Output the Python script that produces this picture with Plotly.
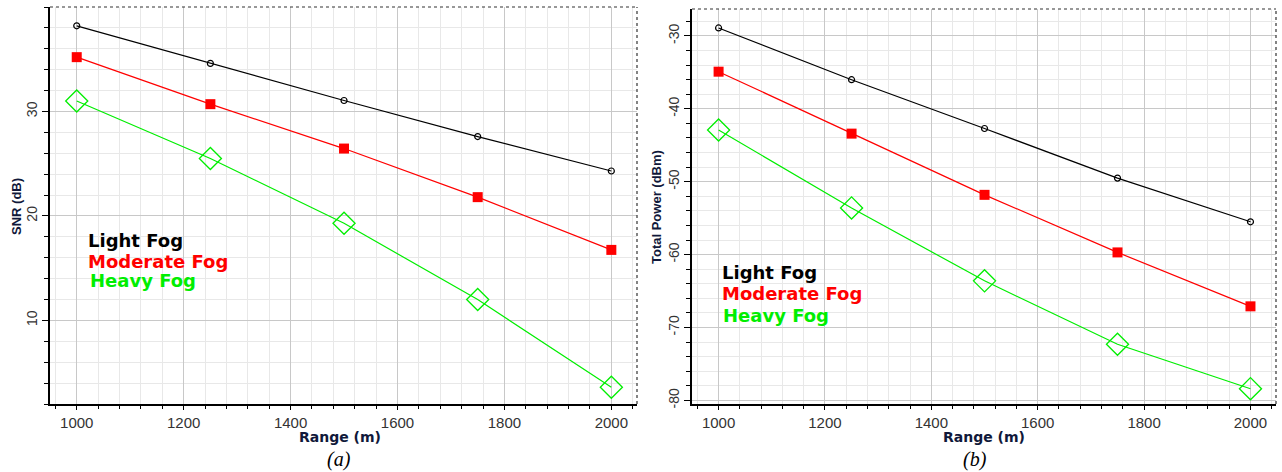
import plotly.graph_objects as go

W, H = 1282, 472

range_m = [1000, 1250, 1500, 1750, 2000]

snr_light = [38.2, 34.6, 31.05, 27.6, 24.3]
snr_moderate = [35.2, 30.7, 26.45, 21.8, 16.75]
snr_heavy = [31.0, 25.5, 19.3, 12.0, 3.6]

pow_light = [-28.9, -36.0, -42.7, -49.5, -55.5]
pow_moderate = [-34.9, -43.4, -51.8, -59.7, -67.1]
pow_heavy = [-42.9, -53.6, -63.6, -72.3, -78.4]

series_names = ["Light Fog", "Moderate Fog", "Heavy Fog"]
x_ticks = [1000, 1200, 1400, 1600, 1800, 2000]
snr_ticks = [10, 20, 30]
pow_ticks = [-30, -40, -50, -60, -70, -80]
pow_ticktext = ["-30", "-40", "-50", "-60", "-70", "-80"]

colors = ["#000000", "#ff0000", "#00ee00"]
markers = [dict(symbol="circle-open", size=6, color="#000000", line=dict(width=1.2)),
           dict(symbol="square", size=10, color="#ff0000"),
           dict(symbol="diamond-open", size=17, color="#00ee00", line=dict(width=1.3))]

fig = go.Figure()

for i, ys in enumerate([snr_light, snr_moderate, snr_heavy]):
    fig.add_trace(go.Scatter(x=range_m, y=ys, mode="lines+markers", name=series_names[i],
                             line=dict(color=colors[i], width=1.2), marker=markers[i],
                             xaxis="x", yaxis="y", showlegend=False))
for i, ys in enumerate([pow_light, pow_moderate, pow_heavy]):
    fig.add_trace(go.Scatter(x=range_m, y=ys, mode="lines+markers", name=series_names[i],
                             line=dict(color=colors[i], width=1.2), marker=markers[i],
                             xaxis="x2", yaxis="y2", showlegend=False))

def px(x):
    return x / W

def py(y):
    return 1 - y / H

xtickfont = dict(family="Liberation Sans, Arial", size=15, color="#333333")
ytickfont = dict(family="Liberation Sans, Arial", size=14, color="#333333")

xcommon = dict(range=[950, 2048], tickvals=x_ticks, showgrid=True, gridcolor="#c8c8c8",
               gridwidth=1, zeroline=False, showline=True, linecolor="#000000", linewidth=1.5,
               ticks="outside", ticklen=4, tickcolor="#000000", tickfont=xtickfont,
               automargin=False,
               minor=dict(dtick=40, tick0=1000, showgrid=True, gridcolor="#e8e8e8",
                          ticks="outside", ticklen=3, tickcolor="#000000"))
ycommon = dict(showgrid=True, gridcolor="#c8c8c8", gridwidth=1, zeroline=False, showline=True,
               linecolor="#000000", linewidth=1.5, ticks="outside", ticklen=6,
               tickcolor="#000000", tickfont=ytickfont, tickangle=-90, automargin=False,
               minor=dict(dtick=2, showgrid=True, gridcolor="#e8e8e8", ticks="outside",
                          ticklen=4, tickcolor="#000000"))

fig.update_layout(
    width=W, height=H,
    margin=dict(l=0, r=0, t=0, b=0),
    paper_bgcolor="#ffffff", plot_bgcolor="#ffffff",
    xaxis=dict(domain=[px(50), px(637)], anchor="y", **xcommon),
    yaxis=dict(domain=[py(404), py(7)], anchor="x", range=[2, 40],
               tickvals=snr_ticks, **ycommon),
    xaxis2=dict(domain=[px(692), px(1276)], anchor="y2", **xcommon),
    yaxis2=dict(domain=[py(404), py(9)], anchor="x2", range=[-80.5, -26.3],
                tickvals=pow_ticks, ticktext=pow_ticktext, **ycommon),
)

# dotted top/right borders
shapes = []
for xr, yr in [("x domain", "y domain"), ("x2 domain", "y2 domain")]:
    shapes.append(dict(type="line", xref=xr, yref=yr, x0=0, x1=1, y0=1, y1=1,
                       line=dict(color="#333333", width=1.2, dash="dot")))
    shapes.append(dict(type="line", xref=xr, yref=yr, x0=1, x1=1, y0=0, y1=1,
                       line=dict(color="#333333", width=1.2, dash="dot")))
fig.update_layout(shapes=shapes)

ann = []
xtitlefont = dict(family="DejaVu Sans, Verdana", size=14, color="#10183a")
ytitlefont = dict(family="Liberation Sans, Arial", size=13, color="#10183a")
ann.append(dict(text="<b>Range (m)</b>", x=px(340), y=py(437), xref="paper", yref="paper",
                showarrow=False, font=xtitlefont, xanchor="center", yanchor="middle"))
ann.append(dict(text="<b>Range (m)</b>", x=px(984), y=py(437), xref="paper", yref="paper",
                showarrow=False, font=xtitlefont, xanchor="center", yanchor="middle"))
ann.append(dict(text="<b>SNR (dB)</b>", x=px(16), y=py(207), xref="paper", yref="paper",
                showarrow=False, font=ytitlefont, textangle=-90, xanchor="center", yanchor="middle"))
ann.append(dict(text="<b>Total Power (dBm)</b>", x=px(656), y=py(207), xref="paper", yref="paper",
                showarrow=False, font=ytitlefont, textangle=-90, xanchor="center", yanchor="middle"))
capfont = dict(family="Liberation Serif, Times New Roman", size=20, color="#000000")
ann.append(dict(text="<i>(a)</i>", x=px(339), y=py(459), xref="paper", yref="paper",
                showarrow=False, font=capfont, xanchor="center", yanchor="middle"))
ann.append(dict(text="<i>(b)</i>", x=px(975), y=py(459), xref="paper", yref="paper",
                showarrow=False, font=capfont, xanchor="center", yanchor="middle"))

legfont = dict(family="DejaVu Sans, Verdana", size=18)
for i, (lx, ly) in enumerate([(86, 240), (86, 261), (88, 280)]):
    ann.append(dict(text="<b>" + series_names[i] + "</b>", x=px(lx), y=py(ly), xref="paper",
                    yref="paper", showarrow=False, font=dict(color=colors[i], **legfont),
                    xanchor="left", yanchor="middle"))
for i, (lx, ly) in enumerate([(720, 272), (720, 293), (721, 315)]):
    ann.append(dict(text="<b>" + series_names[i] + "</b>", x=px(lx), y=py(ly), xref="paper",
                    yref="paper", showarrow=False, font=dict(color=colors[i], **legfont),
                    xanchor="left", yanchor="middle"))
fig.update_layout(annotations=ann)

fig.write_html("out.html", config={"displayModeBar": False},
               post_script="document.body.style.margin='0px';document.body.style.padding='0px';document.body.style.overflow='hidden';")
